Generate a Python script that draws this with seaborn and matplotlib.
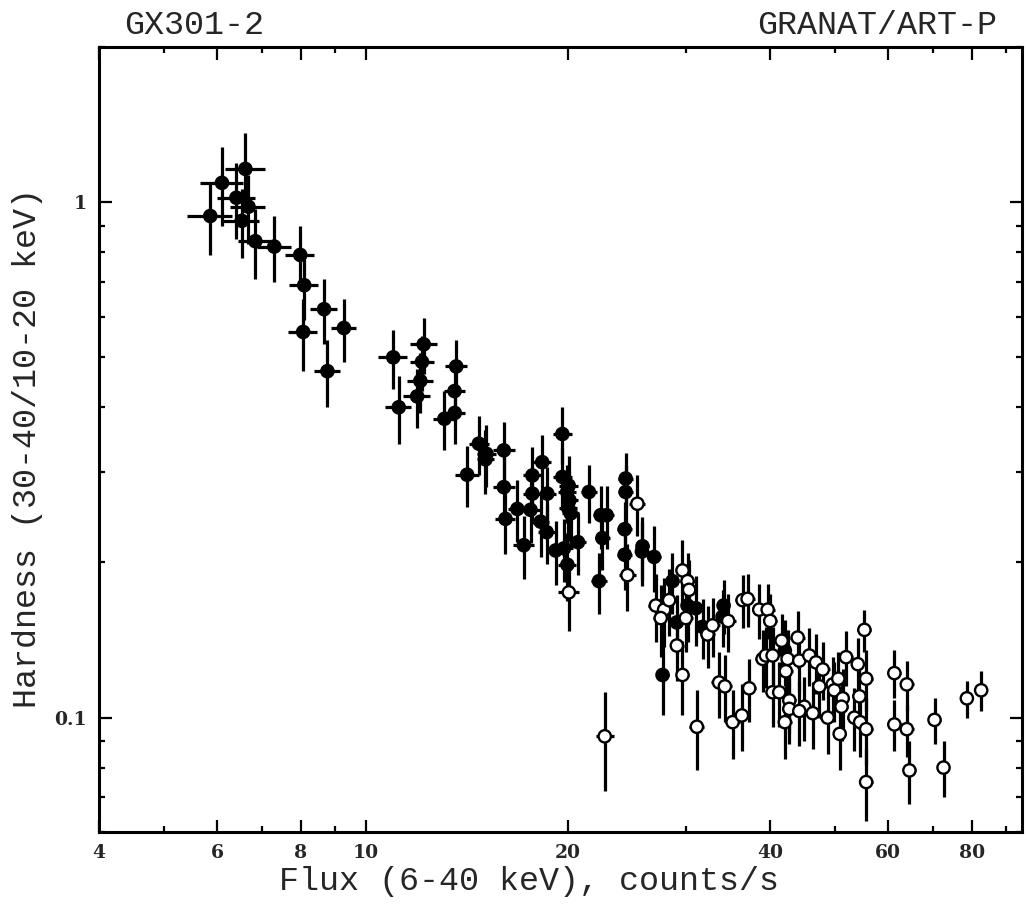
import numpy as np
import pandas as pd
import matplotlib
matplotlib.use("Agg")
import matplotlib.pyplot as plt
import seaborn as sns
from matplotlib.ticker import FixedLocator, FixedFormatter, NullFormatter

# Filled circles: flux (counts/s), hardness and their errors
flux_filled = [5.86, 6.10, 6.41, 6.61, 6.68, 6.53, 6.84, 7.30, 7.98, 8.09,
               8.66, 8.06, 9.27, 8.76, 10.98, 12.19, 12.12, 12.05, 11.92, 11.19,
               13.63, 13.55, 13.56, 13.09, 14.73, 15.12, 15.07, 16.05, 14.15, 16.05,
               16.81, 17.19, 16.14, 17.70, 18.31, 17.70, 17.59, 18.21, 18.63, 18.59,
               19.17, 19.62, 19.62, 20.05, 19.95, 20.10, 20.02, 20.19, 19.73, 19.96,
               20.70, 21.49, 22.38, 22.84, 22.51, 22.25, 24.38, 24.38, 24.30, 24.30,
               25.83, 25.78, 26.88, 28.63, 30.15, 31.02, 29.06, 31.74, 34.12, 34.00,
               27.67, 42.10]
hard_filled = [0.94, 1.09, 1.02, 1.16, 0.98, 0.92, 0.84, 0.82, 0.79, 0.69,
               0.62, 0.56, 0.57, 0.47, 0.50, 0.53, 0.49, 0.45, 0.42, 0.40,
               0.48, 0.43, 0.39, 0.38, 0.34, 0.325, 0.317, 0.33, 0.296, 0.28,
               0.254, 0.216, 0.243, 0.295, 0.313, 0.272, 0.253, 0.240, 0.272, 0.229,
               0.211, 0.355, 0.293, 0.282, 0.274, 0.264, 0.255, 0.249, 0.213, 0.198,
               0.219, 0.274, 0.247, 0.247, 0.223, 0.184, 0.291, 0.274, 0.232, 0.207,
               0.215, 0.210, 0.205, 0.184, 0.165, 0.163, 0.153, 0.150, 0.165, 0.157,
               0.121, 0.135]
flux_err_filled = [0.45, 0.45, 0.42, 0.45, 0.40, 0.40, 0.40, 0.42, 0.40, 0.40,
                   0.40, 0.40, 0.40, 0.40, 0.55, 0.55, 0.50, 0.55, 0.55, 0.50,
                   0.50, 0.50, 0.50, 0.50, 0.50, 0.50, 0.45, 0.60, 0.60, 0.60,
                   0.55, 0.60, 0.55, 0.55, 0.55, 0.55, 0.55, 0.55, 0.55, 0.55,
                   0.55, 0.65, 0.65, 0.65, 0.60, 0.60, 0.60, 0.60, 0.60, 0.60,
                   0.60, 0.60, 0.60, 0.60, 0.60, 0.60, 0.60, 0.60, 0.60, 0.60,
                   0.60, 0.60, 0.60, 0.60, 0.60, 0.60, 0.60, 0.60, 0.60, 0.60,
                   0.60, 0.60]
hard_err_filled = [0.15, 0.19, 0.17, 0.20, 0.15, 0.14, 0.13, 0.12, 0.11, 0.10,
                   0.09, 0.09, 0.08, 0.07, 0.065, 0.065, 0.06, 0.06, 0.055, 0.06,
                   0.06, 0.055, 0.05, 0.05, 0.045, 0.045, 0.045, 0.045, 0.04, 0.04,
                   0.035, 0.03, 0.035, 0.04, 0.04, 0.035, 0.035, 0.035, 0.035, 0.03,
                   0.03, 0.045, 0.04, 0.04, 0.035, 0.035, 0.035, 0.035, 0.03, 0.03,
                   0.03, 0.035, 0.035, 0.035, 0.03, 0.025, 0.035, 0.035, 0.03, 0.03,
                   0.03, 0.03, 0.03, 0.025, 0.025, 0.025, 0.02, 0.02, 0.02, 0.02,
                   0.02, 0.02]

# Open circles
flux_open = [20.06, 25.38, 24.53, 27.04, 22.69, 29.63, 30.15, 30.31, 27.82, 28.30,
             27.50, 29.97, 32.29, 32.85, 34.66, 36.42, 37.05, 38.56, 39.69, 40.04,
             29.06, 29.63, 31.13, 33.60, 34.27, 35.19, 36.33, 37.25, 39.01, 39.45,
             40.37, 41.64, 44.00, 42.50, 42.25, 44.24, 45.79, 46.86, 47.95, 51.95,
             54.08, 55.32, 55.65, 40.37, 41.30, 42.75, 42.75, 45.01, 44.24, 46.33,
             42.10, 47.39, 49.62, 49.89, 50.58, 51.35, 51.14, 48.77, 50.82, 54.38,
             53.46, 54.52, 55.65, 55.65, 61.31, 63.98, 61.31, 63.98, 64.56, 70.37,
             72.58, 78.63, 82.59]
hard_open = [0.175, 0.260, 0.189, 0.165, 0.092, 0.193, 0.184, 0.177, 0.162, 0.169,
             0.156, 0.156, 0.145, 0.151, 0.154, 0.169, 0.170, 0.162, 0.162, 0.154,
             0.138, 0.121, 0.096, 0.117, 0.115, 0.098, 0.101, 0.114, 0.130, 0.132,
             0.132, 0.141, 0.143, 0.130, 0.123, 0.129, 0.132, 0.128, 0.124, 0.131,
             0.127, 0.148, 0.119, 0.112, 0.112, 0.108, 0.104, 0.105, 0.103, 0.102,
             0.098, 0.115, 0.116, 0.113, 0.119, 0.109, 0.105, 0.100, 0.093, 0.110,
             0.100, 0.098, 0.095, 0.075, 0.122, 0.116, 0.097, 0.095, 0.079, 0.099,
             0.080, 0.109, 0.113]
flux_err_open = [0.7, 0.7, 0.7, 0.7, 0.7, 0.7, 0.8, 0.8, 0.7, 0.7,
                 0.7, 0.7, 0.8, 0.8, 0.9, 0.9, 0.9, 0.9, 1.0, 1.0,
                 0.7, 0.7, 0.8, 0.9, 0.9, 0.9, 0.9, 0.9, 1.0, 1.0,
                 1.0, 1.0, 1.1, 1.0, 1.0, 1.1, 1.1, 1.1, 1.2, 1.2,
                 1.3, 1.3, 1.3, 1.0, 1.0, 1.0, 1.0, 1.1, 1.1, 1.1,
                 1.0, 1.2, 1.2, 1.2, 1.2, 1.2, 1.2, 1.2, 1.2, 1.3,
                 1.3, 1.3, 1.3, 1.3, 1.5, 1.5, 1.5, 1.5, 1.5, 1.5,
                 1.5, 1.6, 1.6]
hard_err_open = [0.028, 0.035, 0.028, 0.025, 0.020, 0.028, 0.025, 0.025, 0.025, 0.025,
                 0.025, 0.022, 0.020, 0.020, 0.020, 0.020, 0.020, 0.020, 0.020, 0.020,
                 0.020, 0.020, 0.017, 0.017, 0.017, 0.015, 0.015, 0.016, 0.018, 0.018,
                 0.018, 0.018, 0.018, 0.018, 0.017, 0.017, 0.017, 0.017, 0.016, 0.016,
                 0.016, 0.014, 0.016, 0.016, 0.016, 0.015, 0.015, 0.015, 0.015, 0.015,
                 0.015, 0.015, 0.015, 0.015, 0.015, 0.015, 0.015, 0.015, 0.014, 0.015,
                 0.014, 0.014, 0.014, 0.012, 0.013, 0.013, 0.011, 0.011, 0.011, 0.010,
                 0.010, 0.009, 0.010]

x_major = [4, 6, 8, 10, 20, 40, 60, 80]
x_labels = ["4", "6", "8", "10", "20", "40", "60", "80"]
x_minor = [5, 7, 9, 30, 50, 70, 90]
y_major = [0.1, 1]
y_labels = ["0.1", "1"]
y_minor = [0.06, 0.07, 0.08, 0.09, 0.2, 0.3, 0.4, 0.5, 0.6, 0.7, 0.8, 0.9, 2]

df = pd.concat([
    pd.DataFrame({"flux": flux_filled, "hardness": hard_filled,
                  "xerr": flux_err_filled, "yerr": hard_err_filled, "kind": "filled"}),
    pd.DataFrame({"flux": flux_open, "hardness": hard_open,
                  "xerr": flux_err_open, "yerr": hard_err_open, "kind": "open"}),
], ignore_index=True)

sns.set_style("ticks")
plt.rcParams["font.family"] = ["DejaVu Serif"]

fig = plt.figure(figsize=(10.27, 9.07), dpi=100)
ax = fig.add_axes([0.0964, 0.0827, 0.8987, 0.8655])
ax.set_xscale("log")
ax.set_yscale("log")

# error bars first, markers on top
ax.errorbar(df["flux"], df["hardness"], xerr=df["xerr"], yerr=df["yerr"],
            fmt="none", ecolor="black", elinewidth=2.3, capsize=0, zorder=2)
sns.scatterplot(data=df, x="flux", y="hardness", hue="kind",
                palette={"filled": "black", "open": "white"},
                edgecolor="black", linewidth=1.7, s=78, legend=False,
                zorder=3, ax=ax)

ax.set_xlim(4, 95)
ax.set_ylim(0.06, 2.0)

ax.xaxis.set_major_locator(FixedLocator(x_major))
ax.xaxis.set_major_formatter(FixedFormatter(x_labels))
ax.xaxis.set_minor_locator(FixedLocator(x_minor))
ax.xaxis.set_minor_formatter(NullFormatter())
ax.yaxis.set_major_locator(FixedLocator(y_major))
ax.yaxis.set_major_formatter(FixedFormatter(y_labels))
ax.yaxis.set_minor_locator(FixedLocator(y_minor))
ax.yaxis.set_minor_formatter(NullFormatter())

ax.tick_params(which="both", direction="in", top=True, right=True, color="black")
ax.tick_params(which="major", length=9, width=1.6, pad=9)
ax.tick_params(which="minor", length=4.5, width=1.6)
for lab in ax.get_xticklabels() + ax.get_yticklabels():
    lab.set_fontweight("bold")
    lab.set_fontsize(13.5)
for sp in ax.spines.values():
    sp.set_linewidth(2.2)
    sp.set_color("black")

mono = ["Liberation Mono", "DejaVu Sans Mono"]
ax.set_xlabel("Flux (6-40 keV), counts/s", fontsize=24, family=mono, va="center")
ax.xaxis.set_label_coords((529 - 99) / 923, -0.0637)
ax.set_ylabel("Hardness (30-40/10-20 keV)", fontsize=24, family=mono, va="center")
ax.yaxis.set_label_coords((27 - 99) / 923, 0.489)

fig.text(124 / 1027, 1 - 34 / 907, "GX301-2", fontsize=24, family=mono,
         ha="left", va="baseline")
fig.text(997 / 1027, 1 - 34 / 907, "GRANAT/ART-P", fontsize=24, family=mono,
         ha="right", va="baseline")

fig.savefig("out.png", dpi=100)
